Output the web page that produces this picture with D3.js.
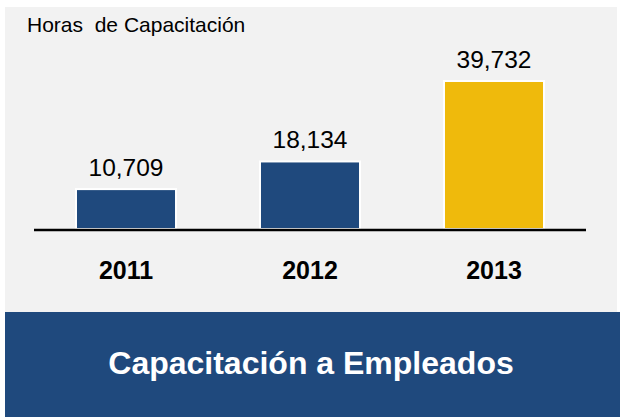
<!DOCTYPE html>
<html>
<head>
<meta charset="utf-8">
<script src="https://cdn.jsdelivr.net/npm/d3@7/dist/d3.min.js"></script>
<style>
  body { margin: 0; background: #fff; }
  svg { display: block; font-family: Arial, "Liberation Sans", sans-serif; }
</style>
</head>
<body>
<div id="chart"></div>
<script>
// data
var years = ["2011", "2012", "2013"];
var hours = [10709, 18134, 39732];
var barColors = ["#1f497d", "#1f497d", "#efba0c"];

var W = 620, H = 417;
var baseY = 229;

var svg = d3.select("#chart").append("svg")
    .attr("width", W)
    .attr("height", H);

// gray panel + blue footer band
svg.append("rect")
    .attr("x", 5).attr("y", 7)
    .attr("width", 612).attr("height", 305)
    .attr("fill", "#f2f2f2");
svg.append("rect")
    .attr("x", 5).attr("y", 312)
    .attr("width", 615).attr("height", 105)
    .attr("fill", "#1f497d");

// scales - step of 184, bars 100 wide
var x = d3.scaleBand()
    .domain(years)
    .range([34, 586])
    .paddingInner(84 / 184)
    .paddingOuter(42 / 184);
var y = d3.scaleLinear()
    .domain([0, 40000])
    .range([baseY, 80]);

// bars
svg.selectAll(".bar")
    .data(hours)
  .enter().append("rect")
    .attr("class", "bar")
    .attr("x", function(d, i) { return x(years[i]); })
    .attr("width", x.bandwidth())
    .attr("y", function(d) { return y(d); })
    .attr("height", function(d) { return baseY - y(d); })
    .attr("fill", function(d, i) { return barColors[i]; })
    .attr("stroke", "#fff")
    .attr("stroke-width", 2);

// value labels
var fmt = d3.format(",");
svg.selectAll(".val")
    .data(hours)
  .enter().append("text")
    .attr("class", "val")
    .attr("x", function(d, i) { return x(years[i]) + x.bandwidth() / 2; })
    .attr("y", function(d) { return y(d) - 13; })
    .attr("text-anchor", "middle")
    .attr("font-size", 24.5)
    .attr("fill", "#000")
    .text(function(d) { return fmt(d); });

// x axis (just the baseline, labels below)
var xAxis = svg.append("g")
    .attr("transform", "translate(0," + baseY + ")")
    .call(d3.axisBottom(x).tickSize(0).tickPadding(32));
xAxis.select(".domain")
    .attr("stroke", "#000")
    .attr("stroke-width", 2.5)
    .attr("d", "M34,1H586");
xAxis.selectAll("text")
    .attr("font-family", "Arial, 'Liberation Sans', sans-serif")
    .attr("font-size", 25)
    .attr("font-weight", "bold")
    .attr("fill", "#000");

// titles
svg.append("text")
    .attr("x", 27).attr("y", 32)
    .attr("font-size", 21)
    .attr("fill", "#000")
    .style("white-space", "pre")
    .text("Horas  de Capacitación");

svg.append("text")
    .attr("x", 311).attr("y", 374)
    .attr("text-anchor", "middle")
    .attr("font-size", 32)
    .attr("font-weight", "bold")
    .attr("fill", "#fff")
    .text("Capacitación a Empleados");
</script>
</body>
</html>
